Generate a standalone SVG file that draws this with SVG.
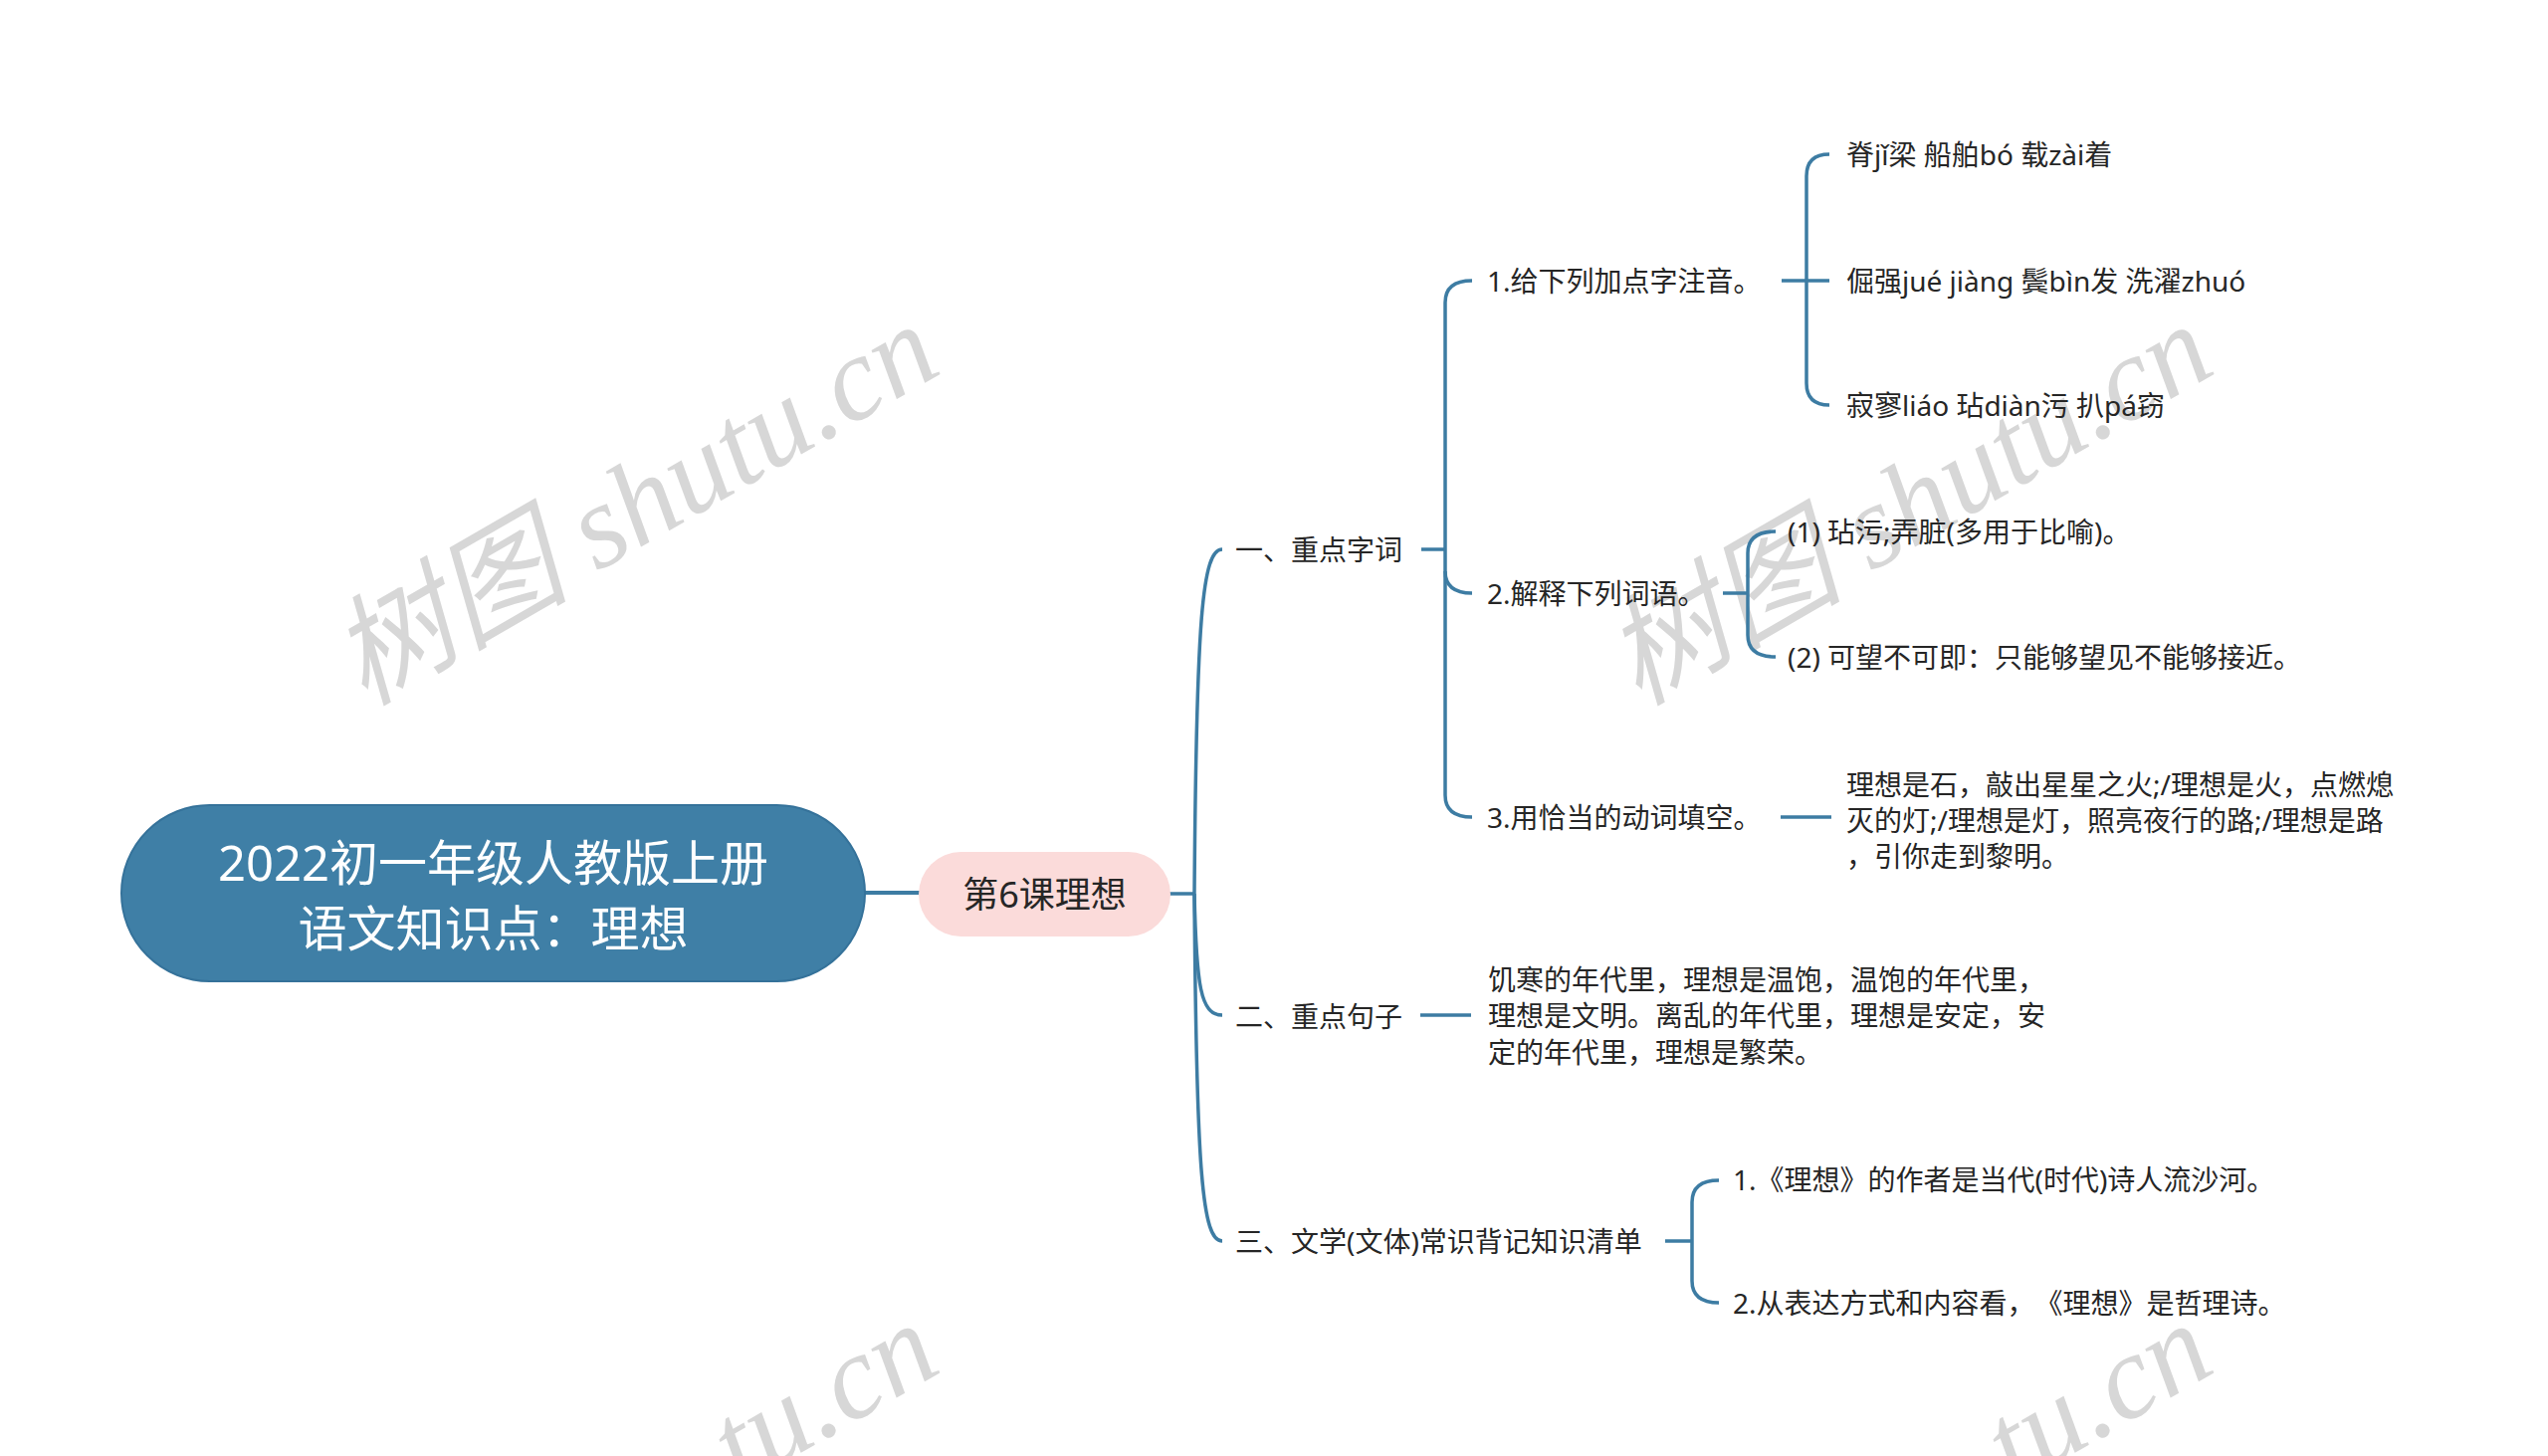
<svg xmlns="http://www.w3.org/2000/svg" width="2560" height="1463" viewBox="0 0 2560 1463">
<style>
.wm{font-family:"Liberation Serif","Noto Sans CJK SC",serif;font-style:italic;font-size:120px;fill:#d7d7d7}
.t{font-family:"Noto Sans","Noto Sans CJK SC",sans-serif;font-size:28px;fill:#262626;text-spacing-trim:space-all}
.root{font-family:"Noto Sans","Noto Sans CJK SC",sans-serif;font-size:49px;fill:#ffffff;text-spacing-trim:space-all}
.sub{font-family:"Noto Sans","Noto Sans CJK SC",sans-serif;font-size:36px;fill:#262626}
.ln{fill:none;stroke:#3d7ca3;stroke-width:3.5;stroke-linecap:butt}
</style>
<rect width="2560" height="1463" fill="#ffffff"/>
<g id="watermarks">
<text class="wm" transform="translate(366,710) rotate(-30)">树图 shutu.cn</text>
<text class="wm" transform="translate(1646,710) rotate(-30)">树图 shutu.cn</text>
<text class="wm" transform="translate(744,1495) rotate(-30)">tu.cn</text>
<text class="wm" transform="translate(2024,1495) rotate(-30)">tu.cn</text>
</g>
<g id="connectors">
<line class="ln" x1="869" y1="897" x2="924" y2="897" style="stroke-width:4"/>
<line class="ln" x1="1174" y1="898" x2="1201" y2="898"/>
<path class="ln" d="M1200 898 C1202 620 1208 552 1228 552"/>
<path class="ln" d="M1200 898 C1202 990 1206 1020 1228 1020"/>
<path class="ln" d="M1200 898 C1202 1180 1208 1247 1228 1247"/>
<line class="ln" x1="1428" y1="552" x2="1453" y2="552"/>
<path class="ln" d="M1479 282 Q1452 282 1452 304 V799 Q1452 821 1479 821"/>
<path class="ln" d="M1452 574 Q1452 596 1479 596"/>
<line class="ln" x1="1790" y1="282" x2="1838" y2="282"/>
<path class="ln" d="M1838 155 Q1815 155 1815 177 V385 Q1815 407 1838 407"/>
<line class="ln" x1="1731" y1="596" x2="1757" y2="596"/>
<path class="ln" d="M1784 534 Q1756 534 1756 556 V638 Q1756 660 1784 660"/>
<line class="ln" x1="1789" y1="821" x2="1840" y2="821"/>
<line class="ln" x1="1427" y1="1020" x2="1478" y2="1020"/>
<line class="ln" x1="1673" y1="1247" x2="1701" y2="1247"/>
<path class="ln" d="M1727 1186 Q1700 1186 1700 1208 V1287 Q1700 1309 1727 1309"/>
</g>
<g id="root">
<rect x="122" y="809" width="747" height="177" rx="88.5" ry="88.5" fill="#3f7fa6" stroke="#35729a" stroke-width="2"/>
<text class="root" x="495.5" y="885" text-anchor="middle">2022初一年级人教版上册</text>
<text class="root" x="495.5" y="951" text-anchor="middle">语文知识点：理想</text>
</g>
<g id="sub">
<rect x="923" y="856" width="253" height="85" rx="42.5" ry="42.5" fill="#fbdbda"/>
<text class="sub" x="1049.5" y="912" text-anchor="middle">第6课理想</text>
</g>
<g id="b1"><text class="t" x="1241" y="563">一、重点字词</text></g>
<g id="b2"><text class="t" x="1241" y="1032">二、重点句子</text></g>
<g id="b3"><text class="t" x="1241" y="1258">三、文学(文体)常识背记知识清单</text></g>
<g id="b1-1"><text class="t" x="1494" y="293">1.给下列加点字注音。</text></g>
<g id="b1-2"><text class="t" x="1494" y="607">2.解释下列词语。</text></g>
<g id="b1-3"><text class="t" x="1494" y="832">3.用恰当的动词填空。</text></g>
<g id="b1-1-1"><text class="t" x="1855" y="166">脊jǐ梁 船舶bó 载zài着</text></g>
<g id="b1-1-2"><text class="t" x="1855" y="293">倔强jué jiàng 鬓bìn发 洗濯zhuó</text></g>
<g id="b1-1-3"><text class="t" x="1855" y="418">寂寥liáo 玷diàn污 扒pá窃</text></g>
<g id="b1-2-1"><text class="t" x="1796" y="545">(1) 玷污;弄脏(多用于比喻)。</text></g>
<g id="b1-2-2"><text class="t" x="1796" y="671">(2) 可望不可即：只能够望见不能够接近。</text></g>
<g id="b1-3-1">
<text class="t" x="1855" y="799">理想是石，敲出星星之火;/理想是火，点燃熄</text>
<text class="t" x="1855" y="835">灭的灯;/理想是灯，照亮夜行的路;/理想是路</text>
<text class="t" x="1855" y="871">，引你走到黎明。</text>
</g>
<g id="b2-1">
<text class="t" x="1495" y="995">饥寒的年代里，理想是温饱，温饱的年代里，</text>
<text class="t" x="1495" y="1031">理想是文明。离乱的年代里，理想是安定，安</text>
<text class="t" x="1495" y="1068">定的年代里，理想是繁荣。</text>
</g>
<g id="b3-1"><text class="t" x="1741" y="1196">1.《理想》的作者是当代(时代)诗人流沙河。</text></g>
<g id="b3-2"><text class="t" x="1741" y="1320">2.从表达方式和内容看，《理想》是哲理诗。</text></g>
</svg>
